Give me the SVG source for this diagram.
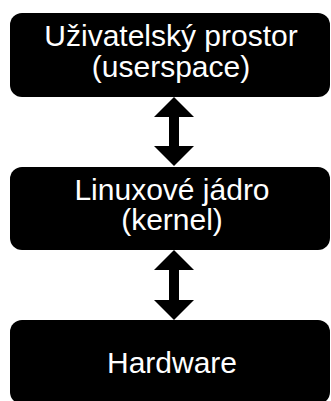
<svg xmlns="http://www.w3.org/2000/svg" width="331" height="401" viewBox="0 0 331 401">
<style>
.box{fill:#000}
.t{font-family:"Liberation Sans",Arial,sans-serif;font-size:30px;fill:#fff;text-anchor:middle}
.arr{fill:#000}
</style>
<rect width="331" height="401" fill="#fff"/>
<g id="connectors">
<path class="arr" d="M174,97 L194,117 L179,117 L179,146 L194,146 L174,166 L154,146 L169,146 L169,117 L154,117 Z"/>
<path class="arr" d="M174,250 L194,270 L179,270 L179,300 L194,300 L174,320 L154,300 L169,300 L169,270 L154,270 Z"/>
</g>
<g id="userspace">
<rect class="box" x="10" y="13" width="320" height="84" rx="12"/>
<text class="t" x="171" y="46">Uživatelský prostor</text>
<text class="t" x="171" y="77">(userspace)</text>
</g>
<g id="kernel">
<rect class="box" x="10" y="167" width="320" height="83" rx="12"/>
<text class="t" x="172" y="200">Linuxové jádro</text>
<text class="t" x="172" y="230">(kernel)</text>
</g>
<g id="hardware">
<rect class="box" x="10" y="320" width="320" height="84" rx="12"/>
<text class="t" x="172" y="373">Hardware</text>
</g>
</svg>
